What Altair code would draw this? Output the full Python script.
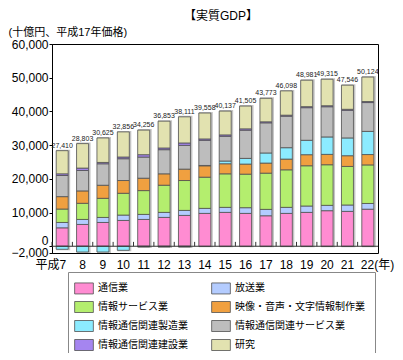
import altair as alt
import pandas as pd

years = ["7", "8", "9", "10", "11", "12", "13", "14", "15", "16", "17", "18", "19", "20", "21", "22"]
series = ["通信業", "放送業", "情報サービス業", "映像・音声・文字情報制作業",
          "情報通信関連製造業", "情報通信関連サービス業", "情報通信関連建設業", "研究"]
colors = ["#FF8CD2", "#B4CCFF", "#B4EE6E", "#F0A040", "#8CEBFF", "#BDBDBD", "#A585F0", "#E2E2B0"]

telecom = [5470, 6470, 7060, 7660, 7960, 8560, 9150, 9750, 10050, 9750, 9050, 9750, 10050, 10550, 10350, 11000]
broadcast = [1590, 1490, 1490, 1590, 1490, 1490, 1490, 1490, 1490, 1690, 1890, 1790, 1890, 1590, 1890, 1690]
info_service = [3980, 4780, 5670, 6470, 7060, 8060, 8860, 9250, 9950, 9950, 10750, 11140, 11940, 12040, 11440, 11440]
media = [3680, 3680, 3880, 3780, 3680, 3380, 3380, 3380, 2990, 2990, 2990, 3180, 3280, 3080, 3180, 3080]
manufacturing = [-900, -1700, -1700, -1200, -200, -200, -200, 100, 800, 1690, 2990, 3380, 4280, 5170, 5270, 6870]
related_service = [6270, 6070, 6370, 6470, 6270, 7160, 7060, 7460, 7350, 8360, 8950, 9350, 9670, 8960, 8200, 8550]
construction = [500, 700, 400, 500, 700, 500, 700, 400, 400, 400, 300, 300, 300, 300, 300, 300]
research = [6870, 7260, 7260, 7460, 7300, 7960, 7760, 7700, 7070, 6760, 6970, 7200, 7850, 7860, 7160, 7260]
total_labels = ["27,410", "28,803", "30,625", "32,856", "34,256", "36,853", "38,111", "39,558",
                "40,137", "41,505", "43,773", "46,098", "48,981", "49,315", "47,546", "50,124"]

values = [telecom, broadcast, info_service, media, manufacturing, related_service, construction, research]

rows = []
for i, yr in enumerate(years):
    for j, name in enumerate(series):
        rows.append({"year": yr, "series": name, "order": j, "value": values[j][i]})
df = pd.DataFrame(rows)

tot = pd.DataFrame({
    "year": years,
    "label": total_labels,
    "top": [sum(v[i] for v in values if v[i] > 0) for i in range(len(years))],
    "bottom": [sum(v[i] for v in values if v[i] < 0) for i in range(len(years))],
})

FONT = "Liberation Sans, Noto Sans CJK JP, sans-serif"

X = alt.X("year:O", sort=years, title=None,
          scale=alt.Scale(paddingInner=0, paddingOuter=0),
          axis=alt.Axis(domain=False, ticks=False, labelAngle=0, labelFontSize=12,
                        labelFont=FONT, labelColor="black", labelPadding=6,
                        labelExpr="datum.value == '7' ? '平成7' : (datum.value == '22' ? '22(年)' : datum.value)",
                        labelAlign={"expr": "datum.value == '7' ? 'right' : (datum.value == '22' ? 'left' : 'center')"},
                        labelOffset={"expr": "datum.value == '7' ? 4 : (datum.value == '22' ? -7 : 0)"}))

yscale = alt.Scale(domain=[-2000, 60000], nice=False, zero=False)
yaxis = alt.Axis(values=[-2000, 0, 10000, 20000, 30000, 40000, 50000, 60000], format=",d",
                 grid=False, tickSize=3, tickColor="black", domainColor="black",
                 labelFontSize=12, labelFont=FONT, labelColor="black", labelPadding=1,
                 labelOverlap=False,
                 labelOffset={"expr": "datum.value == 0 ? -6 : (datum.value == -2000 ? -1 : 0)"},
                 title="(十億円、平成17年価格)", titleAngle=0, titleX=-44, titleY=-12,
                 titleAlign="left", titleBaseline="middle", titleFontSize=11,
                 titleFontWeight="normal", titleFont=FONT, titleColor="black")

shadow = alt.Chart(tot).mark_bar(size=14, color="#c4c4c4", xOffset=1, yOffset=-1, y2Offset=1).encode(
    x=X, y=alt.Y("top:Q", scale=yscale, axis=yaxis), y2="bottom:Q")

bars = alt.Chart(df).mark_bar(size=12, stroke="#505050", strokeWidth=0.8).encode(
    x=X,
    y=alt.Y("value:Q", stack="zero", scale=yscale, axis=yaxis),
    color=alt.Color("series:N", scale=alt.Scale(domain=series, range=colors),
                    legend=alt.Legend(title=None, orient="none", legendX=16, legendY=228,
                                      direction="horizontal", columns=2, columnPadding=22,
                                      rowPadding=3, padding=10,
                                      strokeColor="#888", labelFontSize=10, labelFont=FONT,
                                      labelColor="black", labelOffset=8,
                                      symbolType="M-1.7,-1L1.7,-1L1.7,1L-1.7,1Z",
                                      symbolSize=121, symbolStrokeColor="#505050",
                                      symbolStrokeWidth=0.8, symbolOpacity=1)),
    order=alt.Order("order:Q", sort="ascending"),
)

zero = alt.Chart(pd.DataFrame({"v": [0]})).mark_rule(color="#333333", strokeWidth=1.2).encode(
    y=alt.Y("v:Q", scale=yscale, axis=yaxis))

ticks = alt.Chart(tot).mark_rule(color="#333333", strokeWidth=1).encode(
    x=alt.X("year:O", sort=years, bandPosition=0, title=None),
    y=alt.YDatum(0, axis=yaxis, scale=yscale), y2=alt.datum(1300))

labels = alt.Chart(tot).mark_text(dy=-2, baseline="bottom", fontSize=7, font=FONT,
                                  color="#222").encode(
    x=X, y=alt.Y("top:Q", scale=yscale, axis=yaxis), text="label:N")

chart = alt.layer(shadow, bars, zero, ticks, labels).properties(
    width=326, height=209,
    title=alt.TitleParams("【実質GDP】", fontSize=12, fontWeight="normal", font=FONT,
                          anchor="middle", offset=3, dx=6, color="black"),
    autosize=alt.AutoSizeParams(type="none"),
    padding={"left": 44, "top": 36, "right": 17, "bottom": 100},
).configure_view(stroke="black", strokeWidth=1).configure_axis(labelOverlap=False)

chart.save("out.html", embed_options={"renderer": "svg", "actions": False})
